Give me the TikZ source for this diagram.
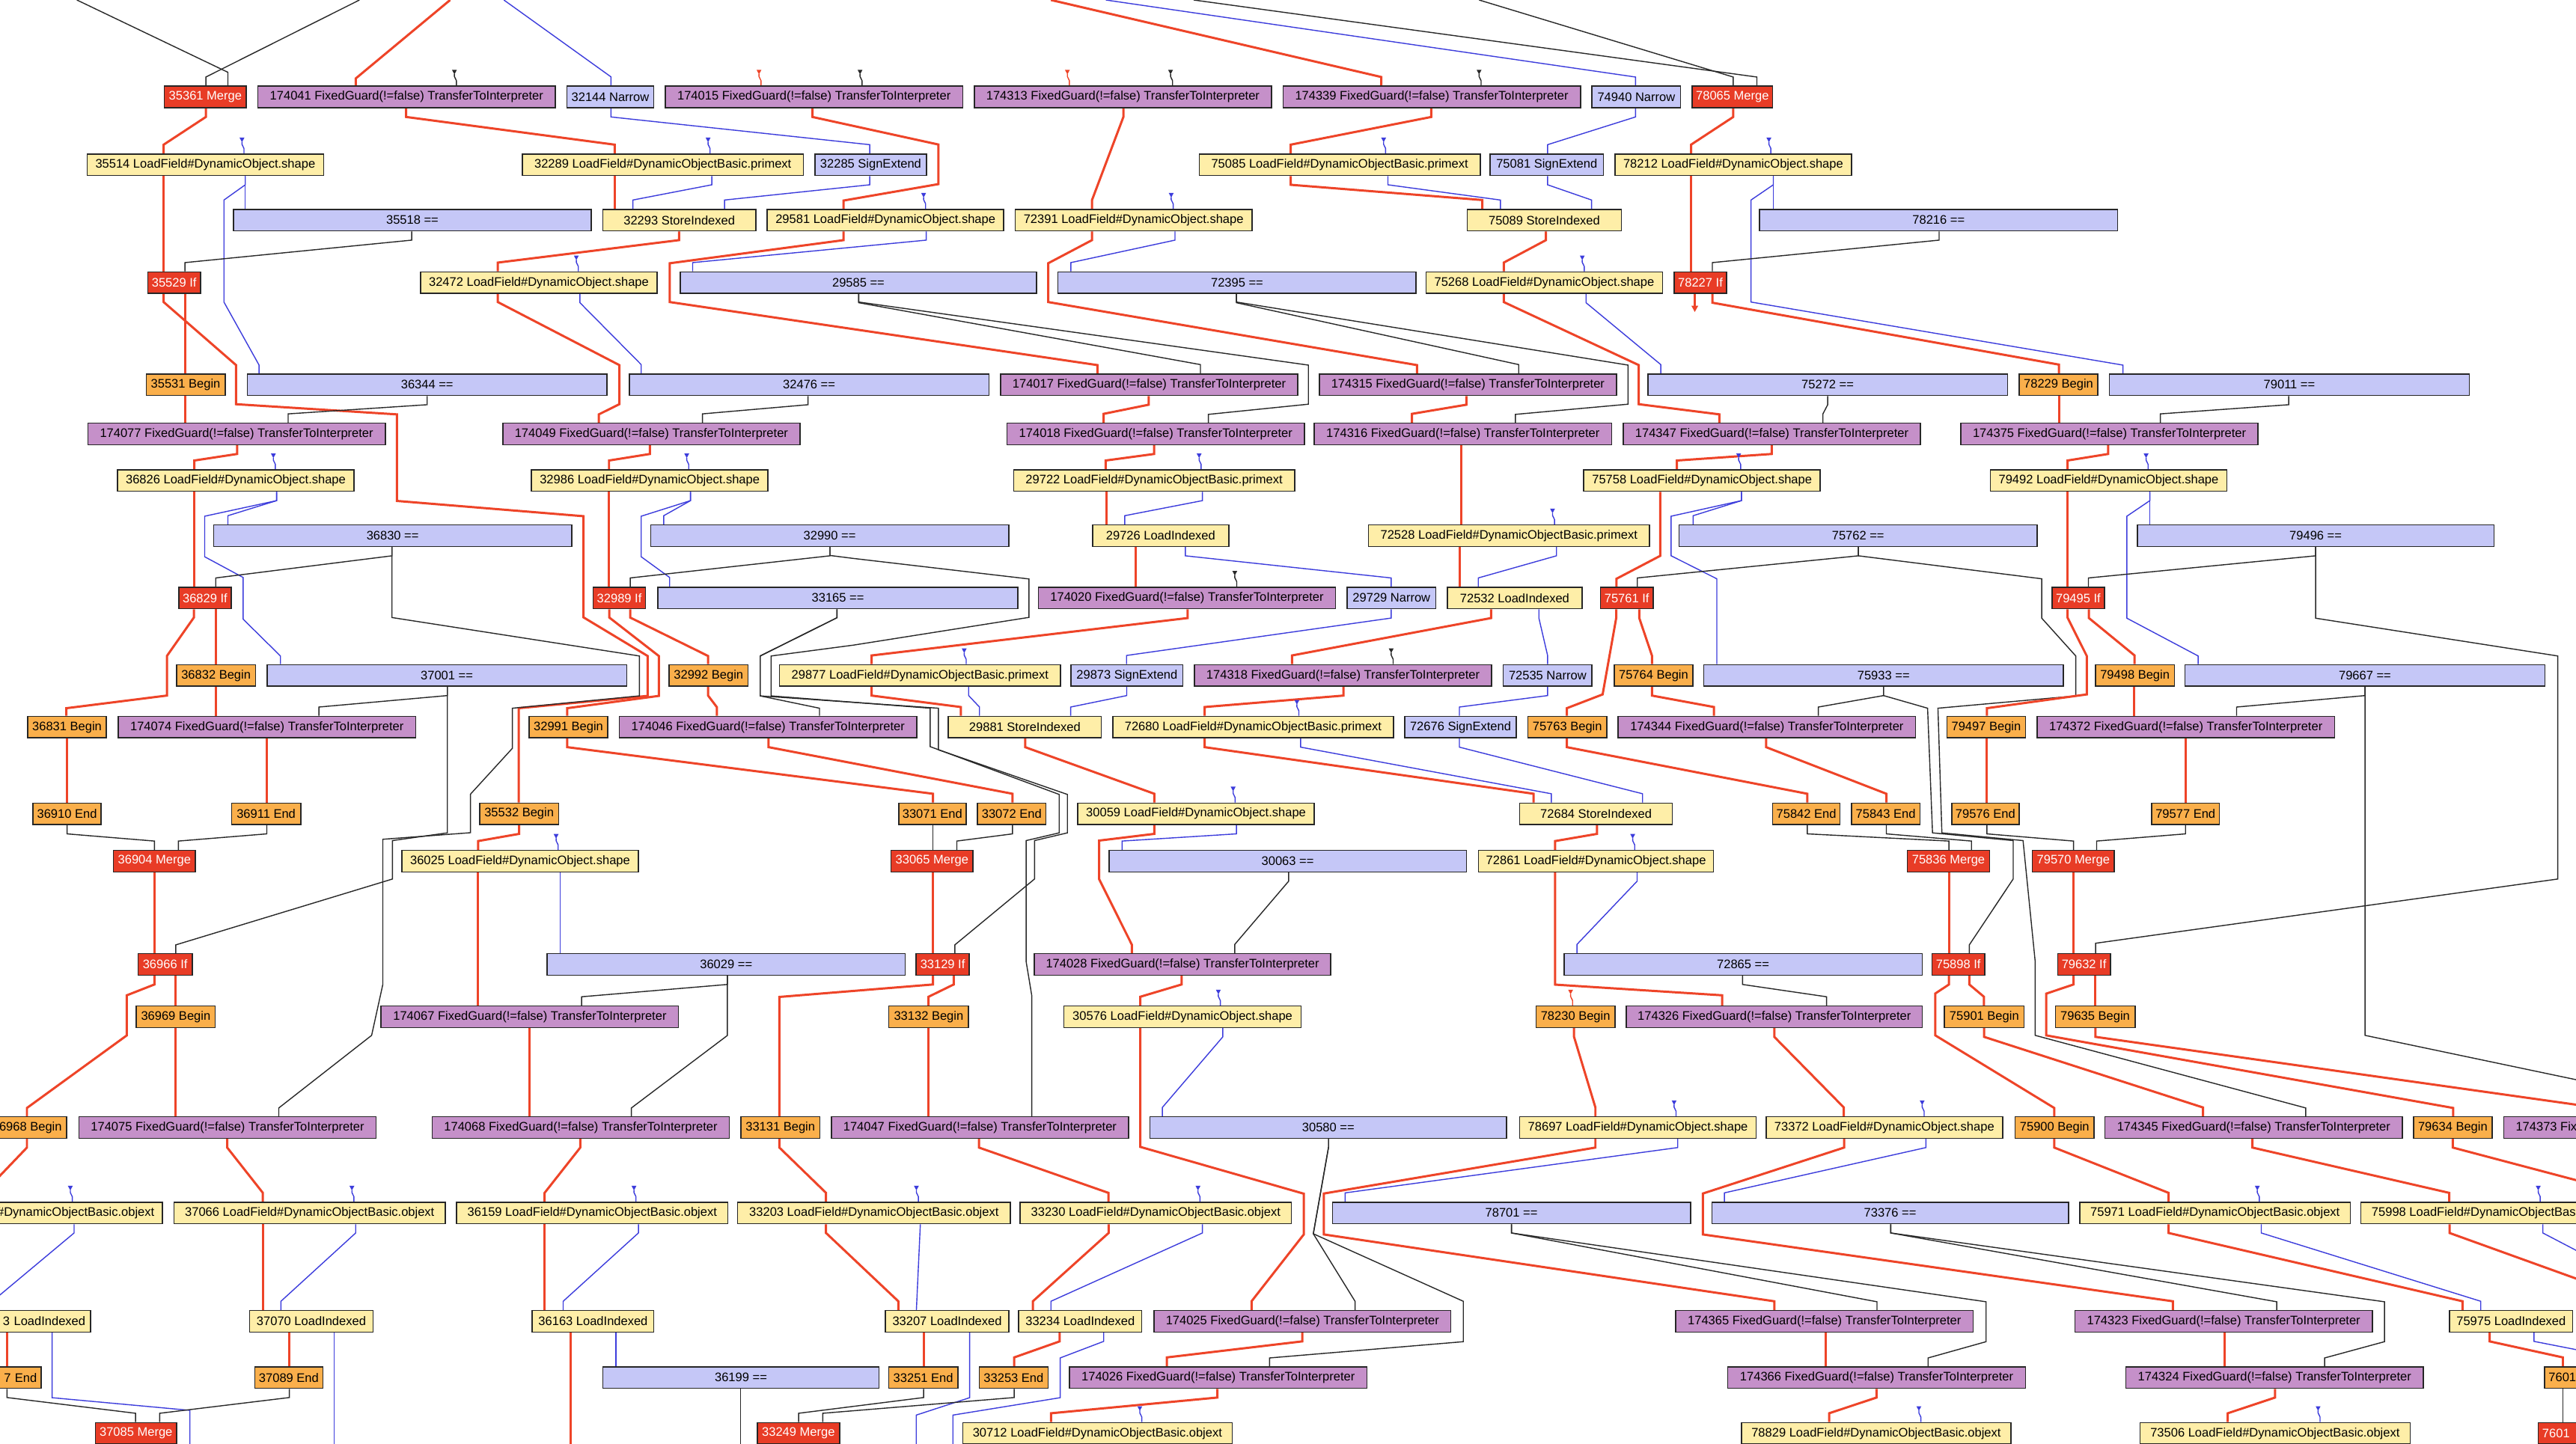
\documentclass[tikz,border=0pt]{standalone}
\usepackage{fontspec}
\setsansfont{Liberation Sans}
\usepackage{tikz}
\usetikzlibrary{calc,arrows.meta}
\pgfdeclarelayer{edges}
\pgfsetlayers{edges,main}
\definecolor{mergered}{RGB}{232,60,38}
\definecolor{guardpurple}{RGB}{197,144,201}
\definecolor{cmpblue}{RGB}{197,199,247}
\definecolor{loadyellow}{RGB}{254,238,168}
\definecolor{beginorange}{RGB}{250,175,75}
\definecolor{cfred}{RGB}{238,68,40}
\definecolor{dfblue}{RGB}{60,60,220}
\definecolor{cdblack}{RGB}{40,40,40}
\tikzset{
  box/.style={draw=black!85, line width=0.45pt, minimum height=0.2876cm, inner sep=0pt,
    font=\sffamily\fontsize{4.7}{5.6}\selectfont},
  mg/.style={box, fill=mergered, text=white},
  fg/.style={box, fill=guardpurple},
  eq/.style={box, fill=cmpblue},
  ld/.style={box, fill=loadyellow},
  bg/.style={box, fill=beginorange},
  wd/.style={minimum width=#1*0.021952cm},
  cf/.style={color=cfred, line width=0.85pt},
  df/.style={color=dfblue, line width=0.4pt},
  cd/.style={color=cdblack, line width=0.4pt}
}
\newcommand{\lnk}[5][cf]{\draw[#1] (#3,0 |- #2.south) -- ++(0,5.3) -- ($(#4,0 |- #5.north)+(0,-5.3)$) -- (#4,0 |- #5.north);}
\newcommand{\vln}[4][cf]{\draw[#1] (#3,0 |- #2.south) -- (#3,0 |- #4.north);}
\newcommand{\pin}[3][df]{\fill[#1] ($(#2,0 |- #3.north)+(-1.5,-9.6)$) -- ++(3,0) -- ++(-1.5,2.8) -- cycle;
  \draw[#1, line width=0.4pt] ($(#2,0 |- #3.north)+(0,-7)$) -- ++(0,1.5) -- ++(1.2,2.5) -- ++(0,3);}
\begin{document}
\begin{tikzpicture}[x=0.021952cm, y=-0.021952cm]
\useasboundingbox (0,0) rectangle (1568,879.2);
\begin{scope}
\clip (0,0) rectangle (1568,879.2);
\node[mg,wd=50] (n35361) at (125,59) {35361 Merge};
\node[fg,wd=181] (n174041) at (247.5,59) {174041 FixedGuard(!=false) TransferToInterpreter};
\node[eq,wd=53] (n32144) at (371.5,59) {32144 Narrow};
\node[fg,wd=181] (n174015) at (495.5,59) {174015 FixedGuard(!=false) TransferToInterpreter};
\node[fg,wd=181] (n174313) at (683.5,59) {174313 FixedGuard(!=false) TransferToInterpreter};
\node[fg,wd=181] (n174339) at (871.5,59) {174339 FixedGuard(!=false) TransferToInterpreter};
\node[eq,wd=54] (n74940) at (996,59) {74940 Narrow};
\node[mg,wd=49] (n78065) at (1054.5,59) {78065 Merge};

\node[ld,wd=144] (n35514) at (125,100.3) {35514 LoadField\#DynamicObject.shape};
\node[ld,wd=171] (n32289) at (403.5,100.3) {32289 LoadField\#DynamicObjectBasic.primext};
\node[eq,wd=68] (n32285) at (530,100.3) {32285 SignExtend};
\node[ld,wd=171] (n75085) at (815.5,100.3) {75085 LoadField\#DynamicObjectBasic.primext};
\node[eq,wd=69] (n75081) at (941.5,100.3) {75081 SignExtend};
\node[ld,wd=144] (n78212) at (1055,100.3) {78212 LoadField\#DynamicObject.shape};

\node[eq,wd=218] (n35518) at (251,134) {35518 ==};
\node[ld,wd=93] (n32293) at (413.5,134) {32293 StoreIndexed};
\node[ld,wd=144] (n29581) at (539,134) {29581 LoadField\#DynamicObject.shape};
\node[ld,wd=144] (n72391) at (690,134) {72391 LoadField\#DynamicObject.shape};
\node[ld,wd=94] (n75089) at (940,134) {75089 StoreIndexed};
\node[eq,wd=218] (n78216) at (1180,134) {78216 ==};

\node[mg,wd=32] (n35529) at (106,172.1) {35529 If};
\node[ld,wd=144] (n32472) at (328,172.1) {32472 LoadField\#DynamicObject.shape};
\node[eq,wd=217] (n29585) at (522.5,172.1) {29585 ==};
\node[eq,wd=218] (n72395) at (753,172.1) {72395 ==};
\node[ld,wd=144] (n75268) at (940,172.1) {75268 LoadField\#DynamicObject.shape};
\node[mg,wd=32] (n78227) at (1035,172.1) {78227 If};

\node[bg,wd=48] (n35531) at (113,234.2) {35531 Begin};
\node[eq,wd=219] (n36344) at (260,234.2) {36344 ==};
\node[eq,wd=219] (n32476) at (492.5,234.2) {32476 ==};
\node[fg,wd=181] (n174017) at (699.5,234.2) {174017 FixedGuard(!=false) TransferToInterpreter};
\node[fg,wd=181] (n174315) at (893.5,234.2) {174315 FixedGuard(!=false) TransferToInterpreter};
\node[eq,wd=219] (n75272) at (1112.5,234.2) {75272 ==};
\node[bg,wd=48] (n78229) at (1253,234.2) {78229 Begin};
\node[eq,wd=219] (n79011) at (1393.5,234.2) {79011 ==};

\node[fg,wd=181] (n174077) at (144,264.2) {174077 FixedGuard(!=false) TransferToInterpreter};
\node[fg,wd=181] (n174049) at (396.5,264.2) {174049 FixedGuard(!=false) TransferToInterpreter};
\node[fg,wd=181] (n174018) at (703.5,264.2) {174018 FixedGuard(!=false) TransferToInterpreter};
\node[fg,wd=181] (n174316) at (890.5,264.2) {174316 FixedGuard(!=false) TransferToInterpreter};
\node[fg,wd=181] (n174347) at (1078.5,264.2) {174347 FixedGuard(!=false) TransferToInterpreter};
\node[fg,wd=181] (n174375) at (1284,264.2) {174375 FixedGuard(!=false) TransferToInterpreter};

\node[ld,wd=144] (n36826) at (143.5,292.6) {36826 LoadField\#DynamicObject.shape};
\node[ld,wd=144] (n32986) at (395.5,292.6) {32986 LoadField\#DynamicObject.shape};
\node[ld,wd=171] (n29722) at (702.5,292.6) {29722 LoadField\#DynamicObjectBasic.primext};
\node[ld,wd=144] (n75758) at (1036,292.6) {75758 LoadField\#DynamicObject.shape};
\node[ld,wd=144] (n79492) at (1283.5,292.6) {79492 LoadField\#DynamicObject.shape};

\node[eq,wd=218] (n36830) at (239,326.2) {36830 ==};
\node[eq,wd=218] (n32990) at (505,326.2) {32990 ==};
\node[ld,wd=83] (n29726) at (706.5,326.2) {29726 LoadIndexed};
\node[ld,wd=171] (n72528) at (918.5,326.2) {72528 LoadField\#DynamicObjectBasic.primext};
\node[eq,wd=218] (n75762) at (1131,326.2) {75762 ==};
\node[eq,wd=217] (n79496) at (1409.5,326.2) {79496 ==};

\node[mg,wd=32] (n36829) at (124.8,364.1) {36829 If};
\node[mg,wd=32] (n32989) at (377,364.1) {32989 If};
\node[eq,wd=219] (n33165) at (510,364.1) {33165 ==};
\node[fg,wd=181] (n174020) at (722.5,364.1) {174020 FixedGuard(!=false) TransferToInterpreter};
\node[eq,wd=54] (n29729) at (847,364.1) {29729 Narrow};
\node[ld,wd=82] (n72532) at (922,364.1) {72532 LoadIndexed};
\node[mg,wd=32] (n75761) at (990.2,364.1) {75761 If};
\node[mg,wd=32] (n79495) at (1265,364.1) {79495 If};

\node[bg,wd=48] (n36832) at (131.5,411.3) {36832 Begin};
\node[eq,wd=219] (n37001) at (272,411.3) {37001 ==};
\node[bg,wd=48] (n32992) at (431.3,411.3) {32992 Begin};
\node[ld,wd=171] (n29877) at (560,411.3) {29877 LoadField\#DynamicObjectBasic.primext};
\node[eq,wd=68] (n29873) at (686,411.3) {29873 SignExtend};
\node[fg,wd=181] (n174318) at (817.5,411.3) {174318 FixedGuard(!=false) TransferToInterpreter};
\node[eq,wd=54] (n72535) at (942,411.3) {72535 Narrow};
\node[bg,wd=48] (n75764) at (1006.5,411.3) {75764 Begin};
\node[eq,wd=219] (n75933) at (1146.5,411.3) {75933 ==};
\node[bg,wd=48] (n79498) at (1299.5,411.3) {79498 Begin};
\node[eq,wd=219] (n79667) at (1439.5,411.3) {79667 ==};

\node[bg,wd=48] (n36831) at (40.8,442.7) {36831 Begin};
\node[fg,wd=181] (n174074) at (162.5,442.7) {174074 FixedGuard(!=false) TransferToInterpreter};
\node[bg,wd=48] (n32991) at (346,442.7) {32991 Begin};
\node[fg,wd=181] (n174046) at (467.5,442.7) {174046 FixedGuard(!=false) TransferToInterpreter};
\node[ld,wd=93] (n29881) at (623.8,442.7) {29881 StoreIndexed};
\node[ld,wd=171] (n72680) at (762.8,442.7) {72680 LoadField\#DynamicObjectBasic.primext};
\node[eq,wd=68] (n72676) at (889,442.7) {72676 SignExtend};
\node[bg,wd=48] (n75763) at (954,442.7) {75763 Begin};
\node[fg,wd=181] (n174344) at (1075.5,442.7) {174344 FixedGuard(!=false) TransferToInterpreter};
\node[bg,wd=48] (n79497) at (1209,442.7) {79497 Begin};
\node[fg,wd=181] (n174372) at (1330.5,442.7) {174372 FixedGuard(!=false) TransferToInterpreter};

\node[bg,wd=41.5] (n36910) at (40.8,495.5) {36910 End};
\node[bg,wd=42] (n36911) at (162,495.5) {36911 End};
\node[bg,wd=48] (n35532) at (316,495.5) {35532 Begin};
\node[bg,wd=41] (n33071) at (567.5,495.5) {33071 End};
\node[bg,wd=41.5] (n33072) at (615.8,495.5) {33072 End};
\node[ld,wd=144] (n30059) at (728,495.5) {30059 LoadField\#DynamicObject.shape};
\node[ld,wd=93] (n72684) at (971.5,495.5) {72684 StoreIndexed};
\node[bg,wd=41] (n75842) at (1099.5,495.5) {75842 End};
\node[bg,wd=41.6] (n75843) at (1147.8,495.5) {75843 End};
\node[bg,wd=41] (n79576) at (1208.5,495.5) {79576 End};
\node[bg,wd=41.4] (n79577) at (1330.3,495.5) {79577 End};

\node[mg,wd=50] (n36904) at (94,524.3) {36904 Merge};
\node[ld,wd=144] (n36025) at (316.6,524.3) {36025 LoadField\#DynamicObject.shape};
\node[mg,wd=50] (n33065) at (567.3,524.3) {33065 Merge};
\node[eq,wd=217.5] (n30063) at (783.8,524.3) {30063 ==};
\node[ld,wd=143] (n72861) at (971.5,524.3) {72861 LoadField\#DynamicObject.shape};
\node[mg,wd=50] (n75836) at (1186,524.3) {75836 Merge};
\node[mg,wd=50] (n79570) at (1262,524.3) {79570 Merge};

\node[mg,wd=33] (n36966) at (100.5,587.2) {36966 If};
\node[eq,wd=218] (n36029) at (442,587.2) {36029 ==};
\node[mg,wd=32.4] (n33129) at (573.8,587.2) {33129 If};
\node[fg,wd=180.4] (n174028) at (719.8,587.2) {174028 FixedGuard(!=false) TransferToInterpreter};
\node[eq,wd=218] (n72865) at (1061,587.2) {72865 ==};
\node[mg,wd=32] (n75898) at (1192,587.2) {75898 If};
\node[mg,wd=32] (n79632) at (1268.5,587.2) {79632 If};

\node[bg,wd=48] (n36969) at (107,619.1) {36969 Begin};
\node[fg,wd=181] (n174067) at (322.5,619.1) {174067 FixedGuard(!=false) TransferToInterpreter};
\node[bg,wd=48.5] (n33132) at (565.3,619.1) {33132 Begin};
\node[ld,wd=144.5] (n30576) at (719.8,619.1) {30576 LoadField\#DynamicObject.shape};
\node[bg,wd=48] (n78230) at (959,619.1) {78230 Begin};
\node[fg,wd=180] (n174326) at (1080,619.1) {174326 FixedGuard(!=false) TransferToInterpreter};
\node[bg,wd=48.4] (n75901) at (1207.8,619.1) {75901 Begin};
\node[bg,wd=48.5] (n79635) at (1275.3,619.1) {79635 Begin};

\node[bg,wd=48] (n36968) at (16.5,686.5) {36968 Begin};
\node[fg,wd=181] (n174075) at (138.5,686.5) {174075 FixedGuard(!=false) TransferToInterpreter};
\node[fg,wd=181] (n174068) at (353.5,686.5) {174068 FixedGuard(!=false) TransferToInterpreter};
\node[bg,wd=48] (n33131) at (475,686.5) {33131 Begin};
\node[fg,wd=181] (n174047) at (596.5,686.5) {174047 FixedGuard(!=false) TransferToInterpreter};
\node[eq,wd=217] (n30580) at (808.5,686.5) {30580 ==};
\node[ld,wd=144] (n78697) at (997,686.5) {78697 LoadField\#DynamicObject.shape};
\node[ld,wd=144] (n73372) at (1147,686.5) {73372 LoadField\#DynamicObject.shape};
\node[bg,wd=48] (n75900) at (1250.6,686.5) {75900 Begin};
\node[fg,wd=181] (n174345) at (1371.8,686.5) {174345 FixedGuard(!=false) TransferToInterpreter};
\node[bg,wd=48] (n79634) at (1493,686.5) {79634 Begin};
\node[fg,wd=181] (n174373) at (1614.5,686.5) {174373 FixedGuard(!=false) TransferToInterpreter};

\node[ld, inner xsep=0.11cm, text width=3.534cm, align=right] (ncutobj) at (13.5,738.5) {LoadField\#DynamicObjectBasic.objext};
\node[ld,wd=165] (n37066) at (188.5,738.5) {37066 LoadField\#DynamicObjectBasic.objext};
\node[ld,wd=165] (n36159) at (360.5,738.5) {36159 LoadField\#DynamicObjectBasic.objext};
\node[ld,wd=166] (n33203) at (532,738.5) {33203 LoadField\#DynamicObjectBasic.objext};
\node[ld,wd=165] (n33230) at (703.5,738.5) {33230 LoadField\#DynamicObjectBasic.objext};
\node[eq,wd=218] (n78701) at (920,738.5) {78701 ==};
\node[eq,wd=217] (n73376) at (1150.5,738.5) {73376 ==};
\node[ld,wd=164.6] (n75971) at (1348.3,738.5) {75971 LoadField\#DynamicObjectBasic.objext};
\node[ld,wd=165] (n75998) at (1519.5,738.5) {75998 LoadField\#DynamicObjectBasic.objext};

\node[ld, inner xsep=0.066cm, text width=1.69cm, align=right] (ncutli) at (13.5,804.5) {3 LoadIndexed};
\node[ld,wd=75] (n37070) at (189.5,804.5) {37070 LoadIndexed};
\node[ld,wd=74] (n36163) at (361,804.5) {36163 LoadIndexed};
\node[ld,wd=75] (n33207) at (576.5,804.5) {33207 LoadIndexed};
\node[ld,wd=75] (n33234) at (657.5,804.5) {33234 LoadIndexed};
\node[fg,wd=180.5] (n174025) at (792.8,804.5) {174025 FixedGuard(!=false) TransferToInterpreter};
\node[fg,wd=181] (n174365) at (1110.5,804.5) {174365 FixedGuard(!=false) TransferToInterpreter};
\node[fg,wd=181] (n174323) at (1353.5,804.5) {174323 FixedGuard(!=false) TransferToInterpreter};
\node[ld,wd=75] (n75975) at (1528.5,804.5) {75975 LoadIndexed};

\node[bg, inner xsep=0.055cm, text width=0.79cm, align=right] (ncutend) at (4.5,838.7) {7 End};
\node[bg,wd=41.5] (n37089) at (175.8,838.7) {37089 End};
\node[eq,wd=168] (n36199) at (451,838.7) {36199 ==};
\node[bg,wd=42] (n33251) at (562,838.7) {33251 End};
\node[bg,wd=42] (n33253) at (617,838.7) {33253 End};
\node[fg,wd=181] (n174026) at (741.5,838.7) {174026 FixedGuard(!=false) TransferToInterpreter};
\node[fg,wd=181.4] (n174366) at (1142.3,838.7) {174366 FixedGuard(!=false) TransferToInterpreter};
\node[fg,wd=181] (n174324) at (1384.5,838.7) {174324 FixedGuard(!=false) TransferToInterpreter};
\node[bg, inner xsep=0.055cm, text width=0.79cm, align=left] (n7601e) at (1569.3,838.7) {7601};

\node[mg,wd=49.6] (n37085) at (82.8,872.7) {37085 Merge};
\node[mg,wd=50] (n33249) at (486,872.7) {33249 Merge};
\node[ld,wd=164] (n30712) at (668,872.7) {30712 LoadField\#DynamicObjectBasic.objext};
\node[ld,wd=164] (n78829) at (1142,872.7) {78829 LoadField\#DynamicObjectBasic.objext};
\node[ld,wd=164.4] (n73506) at (1384.8,872.7) {73506 LoadField\#DynamicObjectBasic.objext};
\node[mg, inner xsep=0.055cm, text width=0.88cm, align=left] (n7601m) at (1567.5,872.7) {7601};
\end{scope}

\begin{pgfonlayer}{edges}
\fill[white] (0,0) rectangle (1568,879.2);
\clip (0,0) rectangle (1568,879.2);
\coordinate (in1) at (46.8,0);
\coordinate (in2) at (218.8,0);
\coordinate (in3) at (274,0);
\coordinate (in4) at (306.7,0);
\coordinate (in5) at (639.7,0);
\coordinate (in6) at (673.1,0);
\coordinate (in7) at (726.6,0);
\coordinate (in8) at (900.3,0);
\coordinate (outR1) at (1600,727);
\coordinate (outR2) at (1600,790);
\coordinate (outR3) at (1600,778);
\coordinate (outR4) at (1600,828);
\coordinate (outB1) at (115.6,885);
\coordinate (outB2) at (203.5,885);
\coordinate (outB3) at (347.5,885);
\coordinate (outB4) at (557.7,885);
\coordinate (outB5) at (580,885);
\coordinate (outB6) at (450.7,885);

\draw[cd] (in1) -- (138.7,44) -- (138.7,0 |- n35361.north);
\draw[cd] (in2) -- (125.3,46.9) -- (125.3,0 |- n35361.north);
\draw[cf] (in3) -- (216.5,47.8) -- (216.5,0 |- n174041.north);
\draw[df] (in4) -- (371.9,46.8) -- (371.9,0 |- n32144.north);
\draw[cf] (in5) -- (840.8,46.9) -- (840.8,0 |- n174339.north);
\draw[df] (in6) -- (995.5,46.9) -- (995.5,0 |- n74940.north);
\draw[cd] (in7) -- (1069.4,46.9) -- (1069.4,0 |- n78065.north);
\draw[cd] (in8) -- (1055,46.9) -- (1055,0 |- n78065.north);

\lnk{n35361}{125.3}{99.6}{n35514}
\lnk{n174041}{247.2}{374.2}{n32289}
\lnk[df]{n32144}{371.9}{529.4}{n32285}
\draw[cf] (494.5,0 |- n174015.south) -- ++(0,5.3) -- (571.2,88) -- (571.2,112.1) -- (513.5,122.1) -- (513.5,0 |- n29581.north);
\lnk{n174313}{683.8}{664.7}{n72391}
\lnk{n174339}{871.2}{785.6}{n75085}
\lnk[df]{n74940}{995.5}{942}{n75081}
\lnk{n78065}{1055}{1029.3}{n78212}

\vln{n35514}{99.6}{n35529}
\vln[df]{n35514}{149.3}{n35518}
\draw[df] (149.3,0 |- n35514.south) -- ++(0,5.3) -- (136.3,121.8) -- (136.3,183.9) -- (157.7,222.3) -- (157.7,0 |- n36344.north);
\vln{n32289}{374.2}{n32293}
\lnk[df]{n32289}{433.3}{385.2}{n32293}
\lnk[df]{n32285}{529.4}{441}{n32293}
\lnk{n75085}{785.6}{902.3}{n75089}
\lnk[df]{n75085}{844.8}{913.3}{n75089}
\lnk[df]{n75081}{942}{968.8}{n75089}
\vln{n78212}{1029.3}{n78227}
\vln[df]{n78212}{1079.4}{n78216}
\draw[df] (1079.4,0 |- n78212.south) -- ++(0,5.3) -- (1065.8,121.8) -- (1065.8,183.9) -- (1292.2,222.3) -- (1292.2,0 |- n79011.north);

\lnk[cd]{n35518}{250.6}{112.6}{n35529}
\lnk{n32293}{413.3}{303}{n32472}
\draw[cf] (513.5,0 |- n29581.south) -- ++(0,5.3) -- (407.6,160.3) -- (407.6,183.9) -- (668,222.3) -- (668,0 |- n174017.north);
\lnk[df]{n29581}{563.8}{421.6}{n29585}
\draw[cf] (664.7,0 |- n72391.south) -- ++(0,5.3) -- (638,160.3) -- (638,183.9) -- (862.5,222.3) -- (862.5,0 |- n174315.north);
\lnk[df]{n72391}{715.2}{651.8}{n72395}
\lnk{n75089}{941}{915.3}{n75268}
\lnk[cd]{n78216}{1180.3}{1042.3}{n78227}

\vln{n35529}{112.6}{n35531}
\draw[cf] (99.6,0 |- n35529.south) -- (99.6,183.9) -- (143.7,222.3) -- (143.7,246.1) -- (241.6,252.3) -- (241.6,305) -- (355.2,314.3) -- (355.2,375.9) -- (394.2,399.4) -- (394.2,423.7) -- (315.7,431.2) -- (315.7,0 |- n35532.north);
\lnk[cd]{n36344}{260}{175.4}{n174077}
\draw[cf] (303,0 |- n32472.south) -- (303,183.9) -- (377,222.3) -- (377,246.1) -- (364.5,252.3) -- (364.5,0 |- n174049.north);
\lnk[df]{n32472}{353}{390.3}{n32476}
\lnk[cd]{n32476}{491.8}{427.6}{n174049}
\lnk[cd]{n29585}{522.7}{730.7}{n174017}
\draw[cd] (522.7,0 |- n29585.south) -- (522.7,183.9) -- (796.4,222.3) -- (796.4,246.1) -- (735.5,252.3) -- (735.5,0 |- n174018.north);
\lnk[cd]{n72395}{752.6}{924.4}{n174315}
\draw[cd] (752.6,0 |- n72395.south) -- (752.6,183.9) -- (991,222.3) -- (991,246.1) -- (922.4,252.3) -- (922.4,0 |- n174316.north);
\draw[cf] (915.3,0 |- n75268.south) -- (915.3,183.9) -- (997.5,222.3) -- (997.5,246.1) -- (1046.6,252.3) -- (1046.6,0 |- n174347.north);
\lnk[df]{n75268}{965.4}{1010.9}{n75272}
\draw[cf,-{Triangle[length=2.4pt,width=2.4pt]}] (1031.6,0 |- n78227.south) -- ++(0,11);
\lnk{n78227}{1042.3}{1253.2}{n78229}

\vln{n35531}{112.6}{n174077}
\lnk{n174017}{699.2}{671.7}{n174018}
\lnk{n174315}{892.6}{859.4}{n174316}
\lnk[cd]{n75272}{1112.5}{1109.6}{n174347}
\vln{n78229}{1253.2}{n174375}
\lnk[cd]{n79011}{1393.1}{1315}{n174375}

\lnk{n174077}{144.3}{118.3}{n36826}
\lnk{n174049}{395.6}{370.7}{n32986}
\lnk{n174018}{702.5}{673}{n29722}
\vln{n174316}{889.4}{n72528}
\lnk{n174347}{1078.4}{1020.7}{n75758}
\lnk{n174375}{1283.2}{1258.5}{n79492}

\vln{n36826}{118}{n36829}
\lnk[df]{n36826}{168.4}{138.7}{n36830}
\draw[df] (168.4,0 |- n36826.south) -- ++(0,5.3) -- (124.6,314.3) -- (124.6,339) -- (148,351.6) -- (148,377) -- (170.7,399.4) -- (170.7,0 |- n37001.north);
\vln{n32986}{370.5}{n32989}
\lnk[df]{n32986}{420.3}{404}{n32990}
\draw[df] (420.3,0 |- n32986.south) -- ++(0,5.3) -- (390.3,314.3) -- (390.3,339) -- (407.6,351.6) -- (407.6,0 |- n33165.north);
\vln{n29722}{673.4}{n29726}
\lnk[df]{n29722}{731.9}{684.6}{n29726}
\draw[cf] (1010.6,0 |- n75758.south) -- (1010.6,338.4) -- (983.9,352.4) -- (983.9,0 |- n75761.north);
\lnk[df]{n75758}{1060}{1030.6}{n75762}
\draw[df] (1060,0 |- n75758.south) -- ++(0,5.3) -- (1017.2,314.3) -- (1017.2,338.4) -- (1045,352.4) -- (1045,0 |- n75933.north);
\vln{n79492}{1258.5}{n79495}
\vln[df]{n79492}{1308.6}{n79496}
\draw[df] (1308.6,0 |- n79492.south) -- ++(0,5.3) -- (1294.6,314.3) -- (1294.6,376.4) -- (1338,399.4) -- (1338,0 |- n79667.north);

\lnk[cd]{n36830}{238.6}{131.3}{n36829}
\draw[cd] (238.6,0 |- n36830.south) -- (238.6,376) -- (389.2,399.4) -- (389.2,423.7) -- (311.9,431.2) -- (311.9,455.6) -- (286.4,483.5) -- (286.4,507) -- (233,511) -- (233,599.5) -- (226.2,630.4) -- (169.7,674.6) -- (169.7,0 |- n174075.north);
\lnk[cd]{n32990}{505.2}{383.6}{n32989}
\draw[cd] (505.2,0 |- n32990.south) -- (505.2,338.2) -- (519.4,340) -- (626.3,352.5) -- (626.3,375.9) -- (519.4,392.8) -- (469.4,399.4) -- (469.4,423.7) -- (566.2,431.2) -- (566.2,454.6) -- (644.7,483.7) -- (644.7,507.1) -- (624.6,511.8) -- (624.6,585.5) -- (628,606) -- (628,0 |- n174047.north);
\vln{n29726}{691.5}{n174020}
\lnk[df]{n29726}{721.5}{846.8}{n29729}
\vln{n72528}{888.6}{n72532}
\lnk[df]{n72528}{947.4}{899.8}{n72532}
\lnk[cd]{n75762}{1131.2}{996.6}{n75761}
\draw[cd] (1131.2,0 |- n75762.south) -- ++(0,5.3) -- (1242.8,352.4) -- (1242.8,376.4) -- (1263.5,399.4) -- (1263.5,423.7) -- (1179.6,431.2) -- (1182,507.1) -- (1231.4,511.8) -- (1238.8,585.5) -- (1238.8,630.4) -- (1403.5,674.6) -- (1403.5,0 |- n174345.north);
\lnk[cd]{n79496}{1409.5}{1271.2}{n79495}
\draw[cd] (1409.5,0 |- n79496.south) -- (1409.5,376.4) -- (1556.9,399.4) -- (1556.9,535.2) -- (1275.6,574.3) -- (1275.6,0 |- n79632.north);

\draw[cf] (118,0 |- n36829.south) -- (118,376) -- (101.6,399.4) -- (101.6,423.5) -- (40.4,431.2) -- (40.4,0 |- n36831.north);
\vln{n36829}{131.3}{n36832}
\draw[cf] (370.9,0 |- n32989.south) -- (370.9,376) -- (401,399.4) -- (401,423.7) -- (345.2,431.2) -- (345.2,0 |- n32991.north);
\draw[cf] (383.6,0 |- n32989.south) -- (383.6,376) -- (431,399.4) -- (431,0 |- n32992.north);
\draw[cd] (509.5,0 |- n33165.south) -- (509.5,376.1) -- (462.7,399.4) -- (462.7,423.7) -- (498.8,431.2) -- (498.8,0 |- n174046.north);
\draw[cd] (509.5,0 |- n33165.south) -- (509.5,376.1) -- (462.7,399.4) -- (462.7,423.7) -- (571.2,431.2) -- (571.2,456.5) -- (649.7,483.7) -- (649.7,507.1) -- (629.7,511.8) -- (629.7,535.2) -- (581.2,575.3) -- (581.2,0 |- n33129.north);
\lnk{n174020}{722.9}{530.5}{n29877}
\lnk[df]{n29729}{846.8}{685.7}{n29873}
\lnk{n72532}{907.6}{786.4}{n174318}
\lnk[df]{n72532}{936.7}{942}{n72535}
\draw[cf] (983.8,0 |- n75761.south) -- (983.8,376.1) -- (975.5,422.8) -- (953.7,431.2) -- (953.7,0 |- n75763.north);
\lnk{n75761}{997.8}{1005.5}{n75764}
\draw[cf] (1258.5,0 |- n79495.south) -- (1258.5,376.1) -- (1270.2,399.4) -- (1270.2,422.8) -- (1209.4,431.2) -- (1209.4,0 |- n79497.north);
\lnk{n79495}{1271.5}{1299.3}{n79498}

\vln{n36832}{131.3}{n174074}
\lnk[cd]{n37001}{272.3}{194.1}{n174074}
\draw[cd] (272.3,0 |- n37001.south) -- (272.3,507.1) -- (238.9,511.8) -- (238.9,535.2) -- (107,575.3) -- (107,0 |- n36966.north);
\lnk{n32992}{431}{436.3}{n174046}
\lnk{n29877}{530.5}{584.9}{n29881}
\lnk[df]{n29877}{589.6}{596.2}{n29881}
\lnk[df]{n29873}{685.8}{651.7}{n29881}
\lnk{n174318}{817.8}{733.2}{n72680}
\lnk[df]{n72535}{942}{888.3}{n72676}
\lnk{n75764}{1005.5}{1043.3}{n174344}
\lnk[cd]{n75933}{1146.5}{1106.8}{n174344}
\draw[cd] (1146.5,0 |- n75933.south) -- ++(0,5.3) -- (1173.3,431.2) -- (1176.3,507.1) -- (1225.4,511.8) -- (1225.4,535.2) -- (1198.7,575.3) -- (1198.7,0 |- n75898.north);
\vln{n79498}{1299.2}{n174372}
\lnk[cd]{n79667}{1439.6}{1361.4}{n174372}
\draw[cd] (1439.6,0 |- n79667.south) -- (1439.6,630.4) -- (1650,674.6) -- (1650,0 |- n174373.north);

\vln{n36831}{40.8}{n36910}
\vln{n174074}{162.4}{n36911}
\lnk{n32991}{345.2}{567.9}{n33071}
\lnk{n174046}{467.8}{616.3}{n33072}
\lnk{n29881}{624}{702.6}{n30059}
\lnk{n72680}{733.2}{933.5}{n72684}
\lnk[df]{n72680}{791.7}{944.3}{n72684}
\lnk[df]{n72676}{888.3}{999.8}{n72684}
\lnk{n75763}{953.7}{1100.1}{n75842}
\lnk{n174344}{1075}{1148.2}{n75843}
\vln{n79497}{1209.4}{n79576}
\vln{n174372}{1330.3}{n79577}

\lnk[cd]{n36910}{40.8}{94}{n36904}
\lnk[cd]{n36911}{162.4}{108.6}{n36904}
\lnk{n35532}{316}{291}{n36025}
\vln[cd]{n33071}{567.9}{n33065}
\lnk[cd]{n33072}{616.3}{582.4}{n33065}
\lnk[df]{n30059}{752.6}{683}{n30063}
\draw[cf] (702.6,0 |- n30059.south) -- ++(0,5.3) -- (669,511.8) -- (669,535.2) -- (689,575.3) -- (689,0 |- n174028.north);
\lnk{n72684}{972.1}{946.6}{n72861}
\lnk[cd]{n75842}{1100.1}{1186.3}{n75836}
\lnk[cd]{n75843}{1148.2}{1200}{n75836}
\lnk[cd]{n79576}{1209.4}{1262.1}{n79570}
\lnk[cd]{n79577}{1330.3}{1276.2}{n79570}

\vln{n36904}{94}{n36966}
\vln{n36025}{291}{n174067}
\vln[df]{n36025}{341}{n36029}
\vln{n33065}{567.9}{n33129}
\lnk[cd]{n30063}{784.4}{751.6}{n174028}
\lnk[df]{n72861}{996.5}{959.9}{n72865}
\draw[cf] (946.6,0 |- n72861.south) -- (946.6,599.5) -- (1048.3,606) -- (1048.3,0 |- n174326.north);
\vln{n75836}{1186.3}{n75898}
\vln{n79570}{1262.1}{n79632}

\draw[cf] (94,0 |- n36966.south) -- ++(0,5.3) -- (77.2,606) -- (77.2,630.4) -- (16.4,674.6) -- (16.4,0 |- n36968.north);
\vln{n36966}{107}{n36969}
\lnk[cd]{n36029}{442.7}{354}{n174067}
\draw[cd] (442.7,0 |- n36029.south) -- (442.7,630.5) -- (384.3,674.6) -- (384.3,0 |- n174068.north);
\draw[cf] (567.9,0 |- n33129.south) -- ++(0,5.3) -- (474.4,607) -- (474.4,0 |- n33131.north);
\lnk{n33129}{580.5}{565.2}{n33132}
\lnk{n174028}{719.2}{694.1}{n30576}
\lnk[cd]{n72865}{1060.7}{1111.8}{n174326}
\draw[cf] (1186.3,0 |- n75898.south) -- ++(0,5.3) -- (1178,604.9) -- (1178,630.4) -- (1250.4,674.6) -- (1250.4,0 |- n75900.north);
\lnk{n75898}{1198.7}{1207.6}{n75901}
\draw[cf] (1262.1,0 |- n79632.south) -- ++(0,5.3) -- (1245.5,605) -- (1245.5,630.4) -- (1493.2,674.6) -- (1493.2,0 |- n79634.north);
\vln{n79632}{1275.5}{n79635}

\vln{n36969}{107}{n174075}
\vln{n174067}{322.4}{n174068}
\vln{n33132}{565.2}{n174047}
\lnk[df]{n30576}{744.3}{707.5}{n30580}
\draw[cf] (694.1,0 |- n30576.south) -- (694.1,698.3) -- (793.6,726.8) -- (793.6,751.6) -- (761.8,792.3) -- (761.8,0 |- n174025.north);
\lnk{n78230}{958.1}{971.1}{n78697}
\lnk{n174326}{1080}{1122.3}{n73372}
\lnk{n75901}{1207.7}{1340.9}{n174345}
\lnk{n79635}{1275.5}{1580}{n174373}

\lnk{n174075}{138.3}{160}{n37066}
\lnk{n36968}{16.4}{-10}{ncutobj}
\lnk{n174068}{353.2}{331.5}{n36159}
\lnk{n33131}{474.4}{502.8}{n33203}
\lnk{n174047}{595.9}{674.7}{n33230}
\draw[cd] (808.7,0 |- n30580.south) -- (808.7,698.3) -- (799.4,751.2) -- (824.8,792.3) -- (824.8,0 |- n174025.north);
\draw[cd] (808.7,0 |- n30580.south) -- (808.7,698.3) -- (799.4,751.2) -- (890.7,792.3) -- (890.7,816.9) -- (772.8,826.8) -- (772.8,0 |- n174026.north);
\lnk[df]{n78697}{1021.2}{818.8}{n78701}
\draw[cf] (971.1,0 |- n78697.south) -- ++(0,5.3) -- (805.8,726.7) -- (805.8,751.6) -- (1043.3,786.9) -- (1080,792.3) -- (1080,0 |- n174365.north);
\draw[cf] (1122.5,0 |- n73372.south) -- ++(0,5.3) -- (1036.5,726.7) -- (1036.5,751.6) -- (1322.6,792.3) -- (1322.6,0 |- n174323.north);
\lnk[df]{n73372}{1172.3}{1049.6}{n73376}
\lnk{n75900}{1250.4}{1320}{n75971}
\lnk{n174345}{1371}{1490.8}{n75998}
\draw[cf] (1493,0 |- n79634.south) -- ++(0,5.3) -- (outR1);

\draw[df] (45.1,0 |- ncutobj.south) -- ++(0,5.3) -- (-5,792.6) -- (-5,0 |- ncutli.north);
\vln{n37066}{160}{n37070}
\lnk[df]{n37066}{216.5}{171}{n37070}
\vln{n36159}{331.4}{n36163}
\lnk[df]{n36159}{388.6}{342.8}{n36163}
\lnk{n33203}{502.8}{546.8}{n33207}
\draw[df] (560.2,0 |- n33203.south) -- (557.8,0 |- n33207.north);
\lnk{n33230}{674.8}{628.7}{n33234}
\lnk[df]{n33230}{731.9}{639.7}{n33234}
\draw[cd] (920,0 |- n78701.south) -- ++(0,5.3) -- (1142.5,792.6) -- (1142.5,0 |- n174365.north);
\draw[cd] (920,0 |- n78701.south) -- ++(0,5.3) -- (1208.9,792.6) -- (1208.9,816.9) -- (1173.6,826.8) -- (1173.6,0 |- n174366.north);
\draw[cd] (1150.9,0 |- n73376.south) -- ++(0,5.3) -- (1385.8,792.6) -- (1385.8,0 |- n174323.north);
\draw[cd] (1150.9,0 |- n73376.south) -- ++(0,5.3) -- (1451.4,792.6) -- (1451.4,816.9) -- (1415,826.8) -- (1415,0 |- n174324.north);
\lnk{n75971}{1320}{1498.9}{n75975}
\lnk[df]{n75971}{1376.4}{1510}{n75975}
\draw[cf] (1491,0 |- n75998.south) -- ++(0,5.3) -- (outR2);
\draw[df] (1547.8,0 |- n75998.south) -- ++(0,5.3) -- (outR3);

\vln{ncutli}{4.3}{ncutend}
\draw[df] (31.7,0 |- ncutli.south) -- (31.7,851) -- (115.6,858.7) -- (outB1);
\vln{n37070}{176.1}{n37089}
\draw[df] (203.5,0 |- n37070.south) -- (outB2);
\draw[cf] (347.5,0 |- n36163.south) -- (outB3);
\vln[df]{n36163}{374.9}{n36199}
\vln{n33207}{562.2}{n33251}
\draw[df] (590.2,0 |- n33207.south) -- (590.2,851) -- (557.7,861.6) -- (outB4);
\lnk{n33234}{645}{617.3}{n33253}
\draw[df] (671.8,0 |- n33234.south) -- ++(0,5.3) -- (645.3,826.8) -- (645.3,851) -- (580,861.6) -- (outB5);
\lnk{n174025}{792.7}{710.2}{n174026}
\vln{n174365}{1111.1}{n174366}
\vln{n174323}{1354}{n174324}
\lnk{n75975}{1515.4}{1560}{n7601e}
\draw[df] (1542.4,0 |- n75975.south) -- ++(0,5.3) -- (outR4);

\lnk[cd]{ncutend}{4.3}{82.5}{n37085}
\lnk[cd]{n37089}{176.1}{97.2}{n37085}
\draw[cd] (450.7,0 |- n36199.south) -- (outB6);
\lnk[cd]{n33251}{562.2}{486.1}{n33249}
\lnk[cd]{n33253}{617.3}{500.8}{n33249}
\lnk{n174026}{741}{639.7}{n30712}
\lnk{n174366}{1142.2}{1113.4}{n78829}
\lnk{n174324}{1384.8}{1356}{n73506}
\vln[cd]{n7601e}{1560}{n7601m}

\pin[cd]{276.6}{n174041}
\pin[cf]{462}{n174015}
\pin[cd]{523.5}{n174015}
\pin[cf]{649.7}{n174313}
\pin[cd]{712.5}{n174313}
\pin[cd]{900.3}{n174339}
\pin{147.3}{n35514}
\pin{431}{n32289}
\pin{842.2}{n75085}
\pin{1076.7}{n78212}
\pin{562.2}{n29581}
\pin{712.9}{n72391}
\pin{350.8}{n32472}
\pin{963.1}{n75268}
\pin{166.4}{n36826}
\pin{418}{n32986}
\pin{729.9}{n29722}
\pin{1058.3}{n75758}
\pin{1306.3}{n79492}
\pin{945}{n72528}
\pin[cd]{751.6}{n174020}
\pin{586.9}{n29877}
\pin[cd]{846.8}{n174318}
\pin{789.4}{n72680}
\pin{750.6}{n30059}
\pin{338.5}{n36025}
\pin{993.8}{n72861}
\pin{741.6}{n30576}
\pin[cf]{956}{n78230}
\pin{1019}{n78697}
\pin{1170}{n73372}
\pin{42.8}{ncutobj}
\pin{214.2}{n37066}
\pin{385.9}{n36159}
\pin{557.8}{n33203}
\pin{729.2}{n33230}
\pin{1374}{n75971}
\pin{1545}{n75998}
\pin{693.8}{n30712}
\pin{1168}{n78829}
\pin{1411}{n73506}
\end{pgfonlayer}
\end{tikzpicture}
\end{document}
